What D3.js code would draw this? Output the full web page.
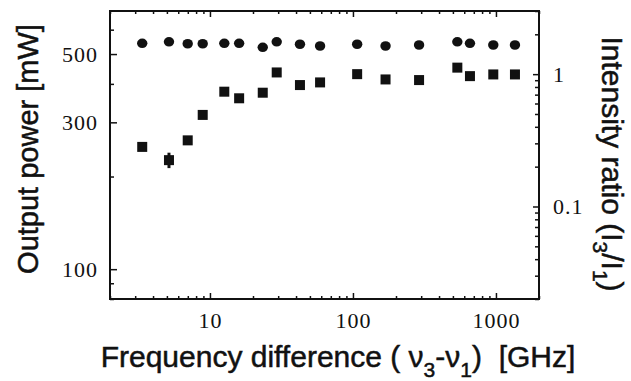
<!DOCTYPE html>
<html>
<head>
<meta charset="utf-8">
<script src="https://cdn.jsdelivr.net/npm/d3@7"></script>
<style>
  body { margin: 0; background: #fff; }
  svg { display: block; }
  .tick-label { font-family: "Liberation Serif", "Times New Roman", serif; font-size: 22px; letter-spacing: 1px; fill: #111; }
  .axis-title { font-family: "Liberation Sans", Arial, sans-serif; font-size: 29px; fill: #111; stroke: #111; stroke-width: 0.5px; }
</style>
</head>
<body>
<div id="chart"></div>
<script>
// frequency difference (GHz), shared by both series
var freq = [3.36, 5.17, 6.99, 8.9, 12.6, 16.0, 23.4, 29.3, 42.6, 58.9, 107, 169, 290, 537, 658, 958, 1358];
// circles: output power (mW), left axis
var power = [542, 548, 540, 540, 542, 542, 526, 548, 538, 531, 538, 531, 535, 548, 542, 535, 535];
// squares: intensity ratio I3/I1, right axis
var ratio = [0.282, 0.224, 0.316, 0.492, 0.737, 0.657, 0.724, 1.03, 0.827, 0.866, 1.0, 0.912, 0.902, 1.12, 0.966, 0.995, 0.995];
// the one visible error bar (on the 5 GHz ratio point)
var errFreq = [5.17];
var errLo = [0.195];
var errHi = [0.255];

var xMajor = [10, 100, 1000];
var leftMajor = [100, 300, 500];
var rightMajor = [0.1, 1];

var width = 631, height = 381;
var margin = {top: 11, right: 92, bottom: 82, left: 110};

var svg = d3.select("#chart").append("svg")
    .attr("width", width)
    .attr("height", height);

svg.append("rect").attr("width", width).attr("height", height).attr("fill", "#fff");

var x = d3.scaleLog().domain([2, 2000]).range([margin.left, width - margin.right]);
var yL = d3.scaleLog().domain([80, 690]).range([height - margin.bottom, margin.top]);
var yR = d3.scaleLog().domain([0.02, 3]).range([height - margin.bottom, margin.top]);

var x0 = x.range()[0], x1 = x.range()[1];
var yTop = yL.range()[1], yBot = yL.range()[0];

// minor ticks = all log ticks that are not major
function minors(scale, major) {
  return scale.ticks().filter(function(t) {
    return major.every(function(m) { return Math.abs(t - m) / m > 1e-6; });
  });
}

function drawAxis(axisFn, scale, major, pos, majorLen, minorLen) {
  var gMinor = svg.append("g").attr("transform", pos)
    .call(axisFn(scale).tickValues(minors(scale, major)).tickSize(-minorLen).tickFormat(""));
  var gMajor = svg.append("g").attr("transform", pos)
    .call(axisFn(scale).tickValues(major).tickSize(-majorLen).tickFormat(d3.format("~g")));
  [gMinor, gMajor].forEach(function(g) {
    g.select(".domain").remove();
    g.selectAll(".tick line").attr("stroke", "#111").attr("stroke-width", 1.5);
  });
  gMajor.selectAll(".tick text").attr("class", "tick-label").attr("fill", null);
  gMajor.attr("font-size", null).attr("font-family", null);
  return gMajor;
}

// bottom / top
var gb = drawAxis(d3.axisBottom, x, xMajor, "translate(0," + yBot + ")", 6, 3);
gb.selectAll(".tick text").attr("y", 13).attr("dy", "0.71em");
var gt = drawAxis(d3.axisTop, x, xMajor, "translate(0," + yTop + ")", 6, 3);
gt.selectAll(".tick text").remove();

// left
var gl = drawAxis(d3.axisLeft, yL, leftMajor, "translate(" + x0 + ",0)", 7, 4);
gl.selectAll(".tick text").attr("x", -12);

// right
var gr = drawAxis(d3.axisRight, yR, rightMajor, "translate(" + x1 + ",0)", 6, 4);
gr.selectAll(".tick text").attr("x", 14);

// frame
svg.append("rect")
  .attr("x", x0).attr("y", yTop)
  .attr("width", x1 - x0).attr("height", yBot - yTop)
  .attr("fill", "none").attr("stroke", "#111").attr("stroke-width", 2);

// error bar
svg.append("g").selectAll("line").data(errFreq).join("line")
  .attr("x1", function(d) { return x(d); })
  .attr("x2", function(d) { return x(d); })
  .attr("y1", function(d, i) { return yR(errLo[i]); })
  .attr("y2", function(d, i) { return yR(errHi[i]); })
  .attr("stroke", "#111").attr("stroke-width", 3);

// circles - output power
svg.append("g").selectAll("ellipse").data(freq).join("ellipse")
  .attr("cx", function(d) { return x(d); })
  .attr("cy", function(d, i) { return yL(power[i]); })
  .attr("rx", 5.2).attr("ry", 4.8)
  .attr("fill", "#111");

// squares - intensity ratio
var s = 10;
svg.append("g").selectAll("rect").data(freq).join("rect")
  .attr("x", function(d) { return x(d) - s / 2; })
  .attr("y", function(d, i) { return yR(ratio[i]) - s / 2; })
  .attr("width", s).attr("height", s)
  .attr("fill", "#111");

// axis titles
svg.append("text")
  .attr("class", "axis-title")
  .attr("transform", "translate(38," + 149 + ") rotate(-90)")
  .attr("text-anchor", "middle")
  .text("Output power [mW]");

var rt = svg.append("text")
  .attr("class", "axis-title")
  .style("font-size", "30px")
  .attr("transform", "translate(602," + 164 + ") rotate(90)")
  .attr("text-anchor", "middle");
rt.append("tspan").text("Intensity ratio (I");
rt.append("tspan").style("font-size", "21px").attr("dy", 9).text("3");
rt.append("tspan").attr("dy", -9).text("/I");
rt.append("tspan").style("font-size", "21px").attr("dy", 9).text("1");
rt.append("tspan").attr("dy", -9).text(")");

var bt = svg.append("text")
  .attr("class", "axis-title")
  .style("font-size", "30px")
  .attr("x", 338)
  .attr("y", 367)
  .attr("text-anchor", "middle");
bt.append("tspan").text("Frequency difference ( \u03bd");
bt.append("tspan").style("font-size", "21px").attr("dy", 10).text("3");
bt.append("tspan").attr("dy", -10).text("-\u03bd");
bt.append("tspan").style("font-size", "21px").attr("dy", 10).text("1");
bt.append("tspan").attr("dy", -10).text(")\u00a0 [GHz]");
</script>
</body>
</html>
